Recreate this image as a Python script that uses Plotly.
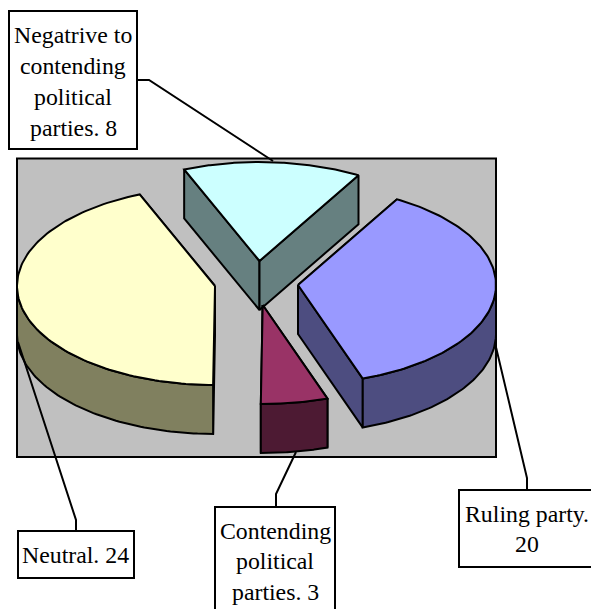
import numpy as np
import plotly.graph_objects as go

# --- data ---
categories = ["Ruling party", "Contending political parties", "Neutral", "Negatrive to contending political parties"]
values = [20, 3, 24, 8]
top_colors = ["#9999FF", "#993366", "#FFFFCC", "#CCFFFF"]
side_colors = ["#4D4D80", "#4D1A33", "#80805F", "#668080"]
label_lines = [
    ["Ruling party.", "20"],
    ["Contending", "political", "parties. 3"],
    ["Neutral. 24"],
    ["Negatrive to", "contending", "political", "parties. 8"],
]

# --- layout constants (pixel space of the 591x609 page) ---
W, H = 591, 609
A, B, DEPTH = 198, 99, 49
START_DEG = -60.0
apexes = [(298, 285), (262.7, 305), (215, 286), (259.5, 261)]
draw_order = [3, 0, 2, 1]
plot_rect = (17, 158.5, 496, 457)
boxes = [(459, 490, 610, 567), (215, 507, 335, 625), (18, 531, 134, 578), (9, 11, 137, 149)]
text_x = [527, 275, 75.5, 73]
text_y = [[514, 544], [531, 561, 592], [555], [35, 66, 97, 128]]
leaders = [
    [(495, 343), (527, 478), (527, 490)],
    [(296, 452), (276, 494), (276, 507)],
    [(18, 342), (76, 520), (76, 531)],
    [(137, 80), (149, 80), (273, 161)],
]
LW = 2
FONT = "Liberation Serif"
FS = 23.8

# --- slice angles from the values ---
total = sum(values)
edges = START_DEG + np.concatenate([[0], np.cumsum(values)]) / total * 360.0


def pt(i, deg, dz=0.0):
    cx, cy = apexes[i]
    t = np.radians(deg)
    return cx + A * np.cos(t), cy + B * np.sin(t) + dz


fig = go.Figure()


def poly(xs, ys, fill, name):
    fig.add_trace(go.Scatter(
        x=list(xs), y=list(ys), mode="lines", fill="toself", fillcolor=fill,
        line=dict(color="black", width=LW), hoverinfo="skip", showlegend=False, name=name,
    ))


for i in draw_order:
    a0, a1 = edges[i], edges[i + 1]
    cx, cy = apexes[i]
    # radial cut faces
    for a in (a0, a1):
        x, y = pt(i, a)
        poly([cx, x, x, cx, cx], [cy, y, y + DEPTH, cy + DEPTH, cy], side_colors[i], categories[i])
    # outer rim (front half only)
    r0, r1 = max(a0, 0), min(a1, 180)
    if r1 > r0:
        th = np.linspace(r0, r1, 80)
        tx, ty = pt(i, th)
        poly(np.r_[tx, tx[::-1], tx[0]], np.r_[ty, ty[::-1] + DEPTH, ty[0]], side_colors[i], categories[i])
    # top face
    th = np.linspace(a0, a1, 120)
    tx, ty = pt(i, th)
    poly(np.r_[cx, tx, cx], np.r_[cy, ty, cy], top_colors[i], categories[i])

# leader lines
for pts in leaders:
    fig.add_trace(go.Scatter(x=[p[0] for p in pts], y=[p[1] for p in pts], mode="lines",
                             line=dict(color="black", width=LW), hoverinfo="skip", showlegend=False))

shapes = [dict(type="rect", xref="x", yref="y", x0=plot_rect[0], y0=plot_rect[1], x1=plot_rect[2], y1=plot_rect[3],
               fillcolor="#C0C0C0", line=dict(color="black", width=LW), layer="below")]
for b in boxes:
    shapes.append(dict(type="rect", xref="x", yref="y", x0=b[0], y0=b[1], x1=b[2], y1=b[3],
                       fillcolor="white", line=dict(color="black", width=LW), layer="above"))

annotations = []
for lines, x, ys in zip(label_lines, text_x, text_y):
    for line, y in zip(lines, ys):
        annotations.append(dict(x=x, y=y, xref="x", yref="y", text=line, showarrow=False,
                                font=dict(family=FONT, size=FS, color="black"),
                                xanchor="center", yanchor="middle"))

fig.update_layout(
    width=W, height=H, margin=dict(l=0, r=0, t=0, b=0),
    paper_bgcolor="white", plot_bgcolor="white", showlegend=False,
    xaxis=dict(range=[0, W], visible=False, fixedrange=True),
    yaxis=dict(range=[H, 0], visible=False, fixedrange=True),
    shapes=shapes, annotations=annotations,
)
fig.write_html("out.html", config=dict(displayModeBar=False),
               post_script="document.body.style.margin='0';document.body.style.overflow='hidden';")
